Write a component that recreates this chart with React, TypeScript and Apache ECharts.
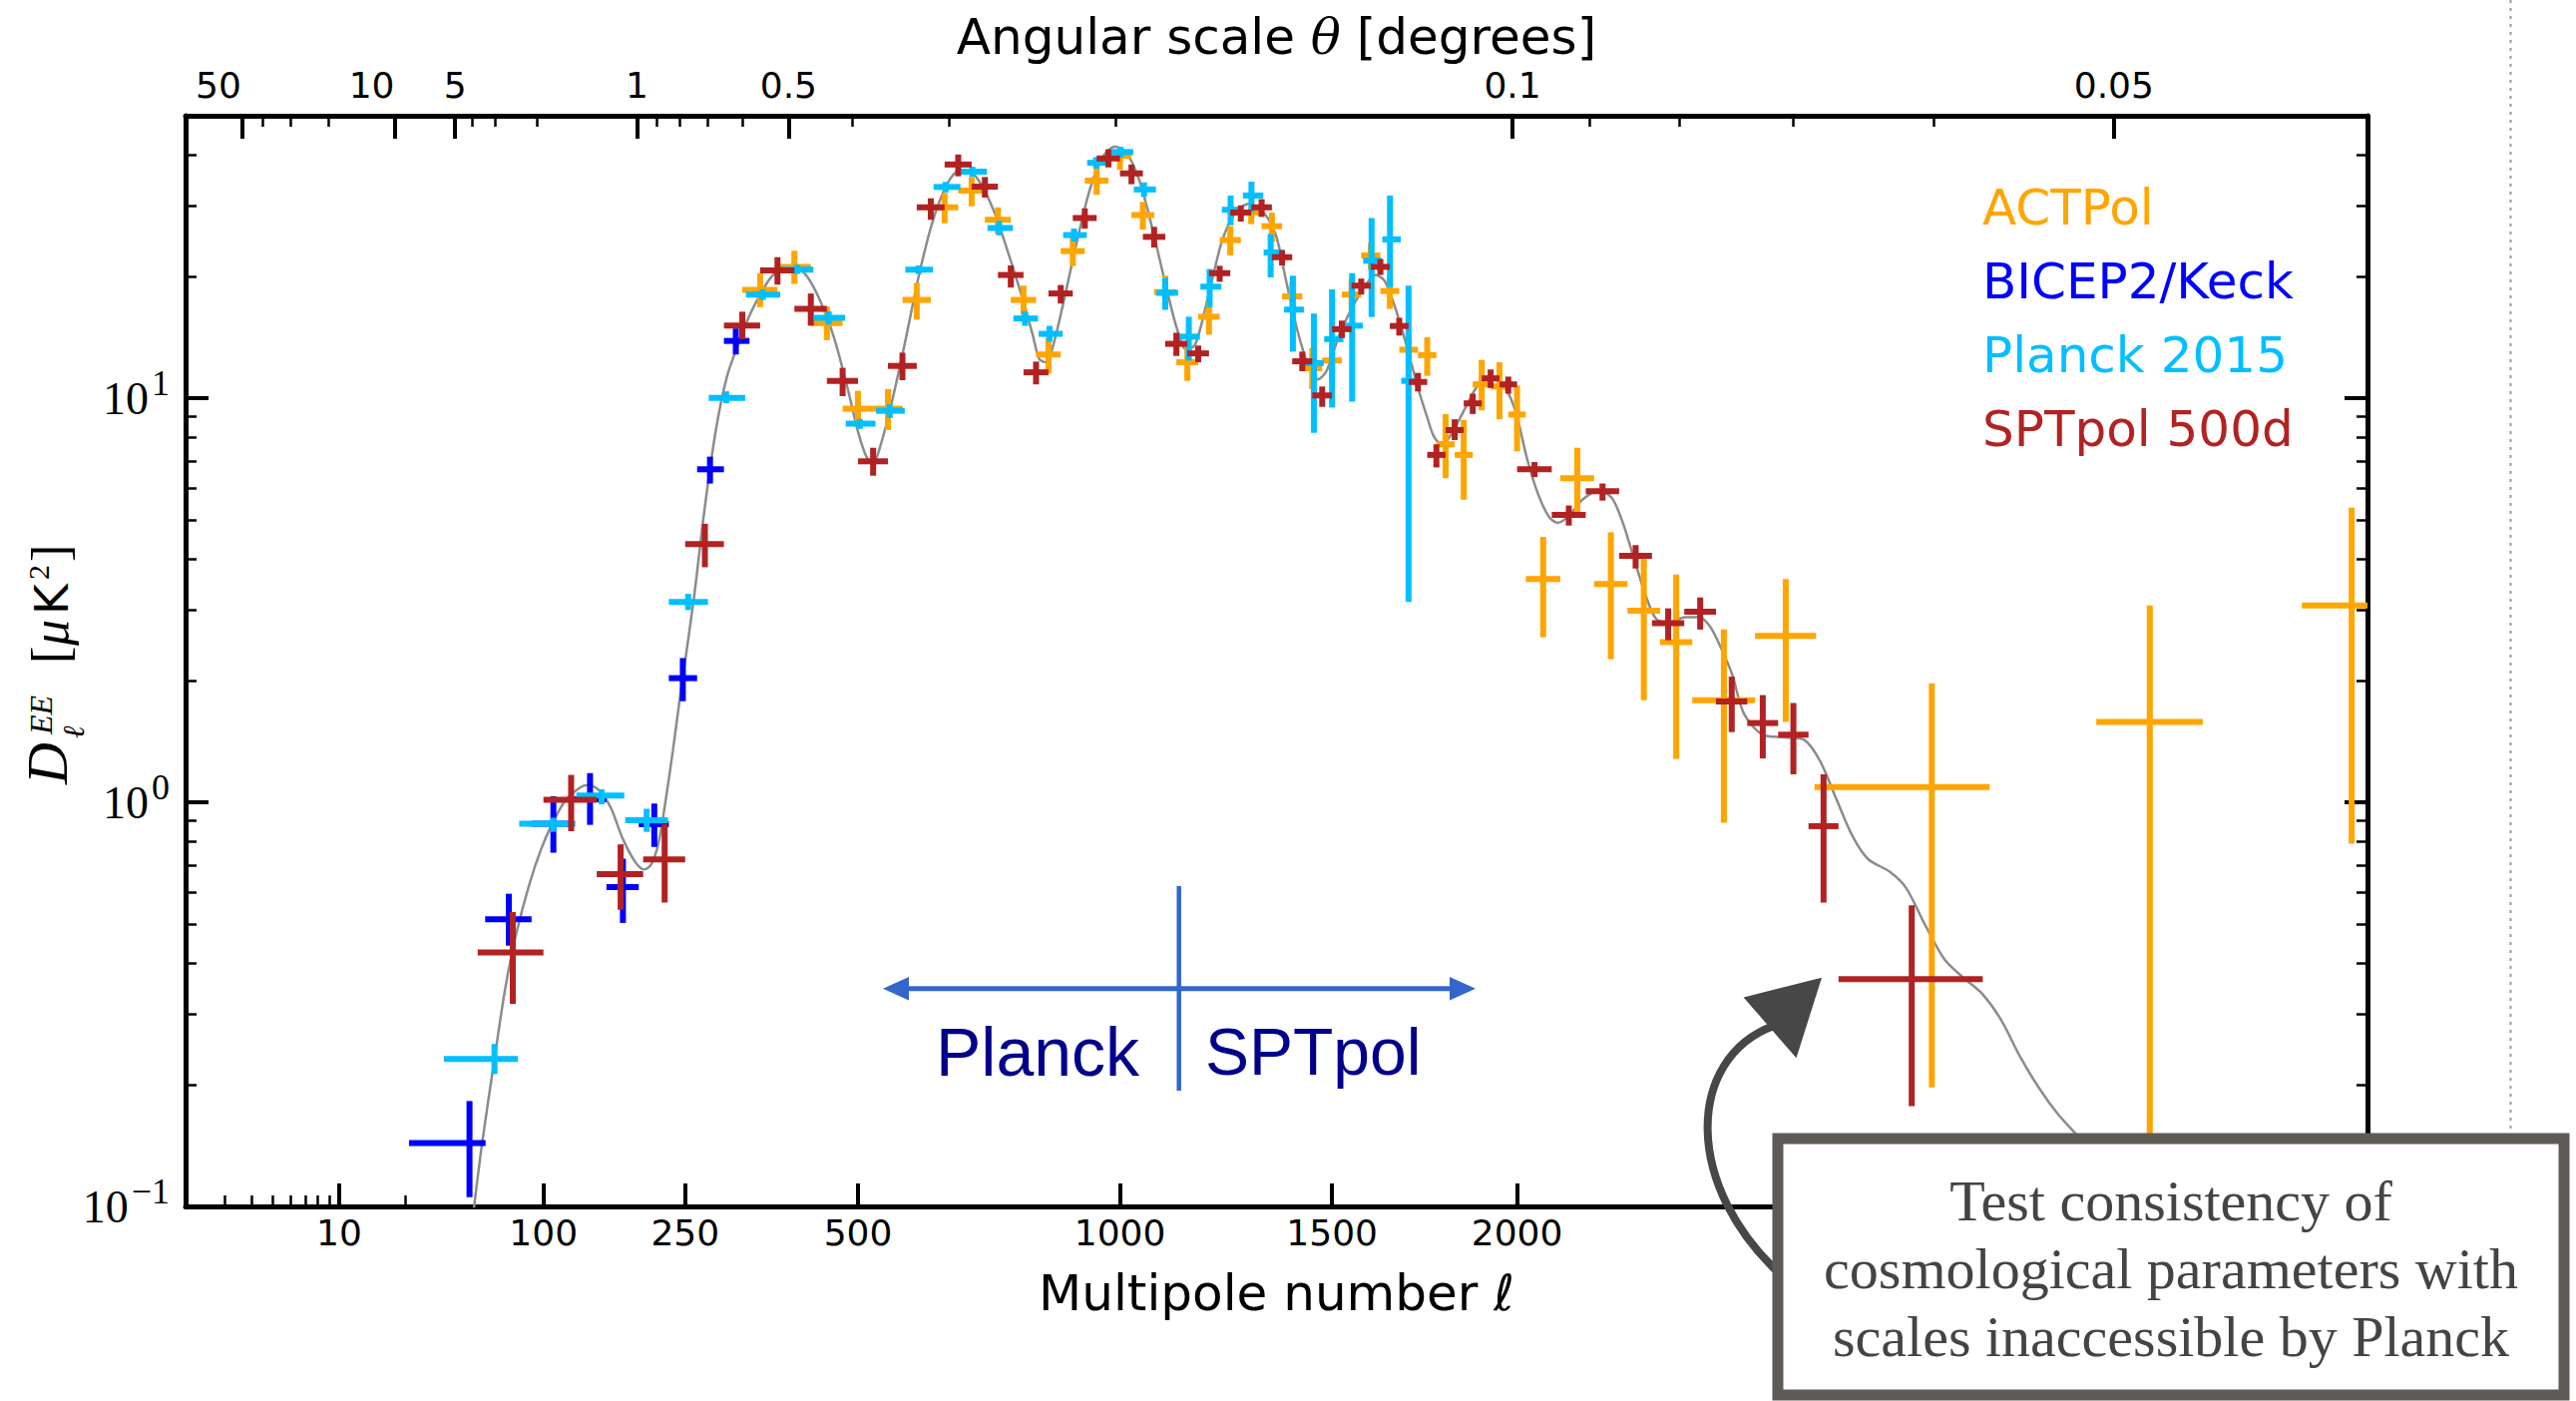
import React, { useEffect, useRef } from "react";
import * as echarts from "echarts";

const SERIES_NAMES = ["ACTPol", "BICEP2/Keck", "Planck 2015", "SPTpol 500d"];
const SERIES_COLORS = ["#FFA500", "#0000FF", "#00BFFF", "#B22222"];

// [ell, D_ell, ell_low, ell_high, D_low, D_high]
const actpolPoints = [
  [350, 18.53, 325, 375, 16.8, 20.39],
  [400, 21.14, 375, 425, 19.17, 23.17],
  [450, 15.34, 425, 475, 13.92, 16.87],
  [500, 9.42, 475, 525, 8.51, 10.43],
  [550, 9.42, 525, 575, 8.34, 10.54],
  [600, 17.51, 575, 625, 15.65, 19.29],
  [650, 29.67, 625, 675, 27.09, 32.2],
  [700, 32.65, 675, 725, 29.85, 35.27],
  [750, 27.64, 725, 775, 25.48, 29.67],
  [800, 17.51, 775, 825, 16.08, 18.99],
  [850, 12.83, 825, 875, 11.5, 14.09],
  [900, 23.12, 875, 925, 21.23, 24.98],
  [950, 34.55, 925, 975, 31.86, 37.48],
  [1000, 39.8, 975, 1025, 36.73, 41.63],
  [1050, 28.39, 1025, 1075, 26.11, 30.6],
  [1100, 18.3, 1075, 1125, 16.6, 20.1],
  [1150, 12.27, 1125, 1175, 11.04, 13.58],
  [1200, 15.91, 1175, 1225, 14.37, 17.51],
  [1250, 24.62, 1225, 1275, 22.56, 26.65],
  [1300, 28.8, 1275, 1325, 26.97, 29.67],
  [1350, 26.65, 1325, 1375, 24.37, 28.8],
  [1400, 17.86, 1375, 1425, 16.48, 19.39],
  [1450, 11.86, 1425, 1475, 10.54, 13.31],
  [1500, 12.4, 1475, 1525, 11.08, 13.86],
  [1550, 18.05, 1525, 1575, 16.48, 19.77],
  [1600, 22.56, 1575, 1625, 20.8, 24.23],
  [1650, 18.42, 1625, 1675, 16.63, 20.18],
  [1700, 13.18, 1675, 1725, 11.9, 14.43],
  [1750, 12.78, 1725, 1775, 11.36, 14.15],
  [1800, 7.69, 1775, 1825, 6.34, 9.14],
  [1850, 7.24, 1825, 1875, 5.61, 8.83],
  [1900, 10.82, 1875, 1925, 9.33, 12.44],
  [1950, 10.69, 1925, 1975, 8.87, 12.27],
  [2000, 9.11, 1975, 2025, 7.39, 10.75],
  [2075, 3.57, 2025, 2125, 2.56, 4.54],
  [2175, 6.34, 2125, 2225, 5.23, 7.54],
  [2275, 3.47, 2225, 2325, 2.26, 4.66],
  [2375, 2.98, 2325, 2425, 1.79, 4.09],
  [2475, 2.49, 2425, 2525, 1.28, 3.66],
  [2625, 1.79, 2525, 2725, 0.89, 2.68],
  [2825, 2.58, 2725, 2925, 1.58, 3.57],
  [3320, 1.09, 2920, 3525, 0.197, 1.97],
  [4117, 1.58, 3915, 4321, 0.05, 3.07],
  [4915, 3.07, 4713, 5000, 0.79, 5.36],
];

const bicepPoints = [
  [44.8, 0.1435, 20.8, 55.3, 0.1054, 0.1823],
  [72, 0.5135, 55, 90, 0.4419, 0.5939],
  [108.7, 0.885, 90, 125, 0.7503, 1.035],
  [143.3, 1.018, 125, 160, 0.8794, 1.181],
  [177.5, 0.6165, 160, 195, 0.503, 0.7252],
  [212.8, 0.883, 195, 230, 0.7755, 0.993],
  [247.1, 2.029, 230, 265, 1.779, 2.275],
  [281.6, 6.67, 265, 300, 6.15, 7.167],
  [316.1, 13.86, 300, 335, 12.83, 14.88],
];

const planckPoints = [
  [61.5, 0.2317, 30, 79, 0.2125, 0.2523],
  [108.7, 0.885, 80, 129, 0.845, 0.916],
  [155, 1.039, 130, 179, 0.989, 1.077],
  [204, 0.903, 180, 229, 0.845, 0.964],
  [253.7, 3.134, 230, 279, 2.99, 3.28],
  [303, 10.02, 280, 329, 9.72, 10.4],
  [353.6, 18.05, 330, 379, 17.5, 18.6],
  [404, 20.8, 380, 429, 20.3, 21.4],
  [452.8, 15.81, 430, 479, 15.2, 16.4],
  [503, 8.65, 480, 529, 8.4, 8.88],
  [553, 9.31, 530, 579, 8.93, 9.67],
  [603.3, 20.8, 580, 629, 20.3, 21.3],
  [651.6, 33.32, 630, 679, 32.3, 34.3],
  [701.3, 36.36, 680, 729, 35.3, 37.4],
  [752.3, 26.38, 730, 779, 25.3, 27.5],
  [802.9, 15.75, 780, 829, 15.1, 16.4],
  [852.1, 14.43, 830, 879, 13.8, 15.1],
  [902.5, 25.33, 880, 929, 24.4, 26.3],
  [949, 38.25, 930, 979, 37.0, 39.5],
  [1001, 40.66, 980, 1029, 39.4, 41.9],
  [1052.6, 32.85, 1030, 1079, 31.5, 34.2],
  [1099.6, 18.23, 1080, 1129, 16.54, 19.85],
  [1153.4, 14.2, 1130, 1179, 12.4, 15.91],
  [1201.5, 18.88, 1180, 1229, 16.8, 20.88],
  [1250.8, 29.26, 1230, 1279, 26.81, 31.74],
  [1300.5, 31.74, 1280, 1329, 28.8, 34.34],
  [1347, 22.94, 1330, 1379, 19.9, 25.48],
  [1401.7, 16.57, 1380, 1429, 13.04, 20.1],
  [1454, 12.22, 1430, 1479, 8.21, 16.2],
  [1500, 14.0, 1480, 1529, 9.48, 18.6],
  [1551.5, 15.12, 1530, 1579, 9.81, 20.39],
  [1602, 21.89, 1580, 1629, 15.88, 27.92],
  [1650.4, 24.72, 1630, 1679, 18.8, 31.74],
  [1699.8, 11.04, 1680, 1729, 3.13, 18.99],
];

const sptpolPoints = [
  [75, 0.425, 50, 100, 0.317, 0.535],
  [125, 1.014, 100, 150, 0.848, 1.169],
  [175, 0.6645, 150, 200, 0.542, 0.787],
  [225, 0.7225, 200, 250, 0.565, 0.884],
  [275, 4.355, 250, 300, 3.817, 4.891],
  [325, 15.12, 300, 350, 14.0, 16.37],
  [375, 20.72, 350, 400, 19.1, 22.34],
  [425, 16.63, 400, 450, 15.12, 18.16],
  [475, 11.04, 450, 500, 10.12, 11.89],
  [525, 6.98, 500, 550, 6.43, 7.54],
  [575, 12.02, 550, 600, 11.08, 12.96],
  [625, 29.67, 600, 650, 27.64, 31.24],
  [675, 37.87, 650, 700, 35.41, 40.09],
  [725, 33.38, 700, 750, 31.36, 35.27],
  [775, 20.18, 750, 800, 18.79, 21.31],
  [825, 11.59, 800, 850, 10.82, 12.32],
  [875, 18.16, 850, 900, 17.15, 19.06],
  [925, 27.92, 900, 950, 26.28, 29.5],
  [975, 39.2, 950, 1000, 37.25, 41.3],
  [1025, 36.0, 1000, 1050, 33.85, 37.87],
  [1075, 25.08, 1050, 1100, 23.6, 26.55],
  [1125, 13.63, 1100, 1150, 12.72, 14.52],
  [1175, 12.91, 1150, 1200, 12.27, 13.5],
  [1225, 20.39, 1200, 1250, 19.41, 21.26],
  [1275, 28.8, 1250, 1300, 27.35, 30.0],
  [1325, 29.67, 1300, 1350, 28.09, 31.09],
  [1375, 22.33, 1350, 1400, 21.31, 23.25],
  [1425, 12.34, 1400, 1450, 11.66, 13.04],
  [1475, 10.16, 1450, 1500, 9.52, 10.69],
  [1525, 14.82, 1500, 1550, 14.09, 15.56],
  [1575, 18.99, 1550, 1600, 18.05, 19.77],
  [1625, 21.14, 1600, 1650, 20.18, 22.1],
  [1675, 15.09, 1650, 1700, 14.29, 15.81],
  [1725, 10.97, 1700, 1750, 10.39, 11.55],
  [1775, 7.24, 1750, 1800, 6.74, 7.69],
  [1825, 8.34, 1800, 1850, 7.88, 8.87],
  [1875, 9.71, 1850, 1900, 9.14, 10.26],
  [1925, 11.2, 1900, 1950, 10.6, 11.78],
  [1975, 10.82, 1950, 2000, 10.26, 11.31],
  [2050, 6.67, 2000, 2100, 6.38, 6.95],
  [2150, 5.145, 2100, 2200, 4.84, 5.425],
  [2250, 5.884, 2200, 2300, 5.58, 6.15],
  [2350, 4.073, 2300, 2400, 3.79, 4.33],
  [2450, 2.775, 2400, 2500, 2.518, 3.02],
  [2550, 2.962, 2500, 2600, 2.676, 3.213],
  [2650, 1.776, 2600, 2700, 1.492, 2.046],
  [2750, 1.571, 2700, 2800, 1.284, 1.842],
  [2850, 1.47, 2800, 2900, 1.173, 1.761],
  [2950, 0.873, 2900, 3000, 0.565, 1.173],
  [3250, 0.365, 3000, 3500, 0.177, 0.556],
];

// theory (LCDM) EE spectrum
const theoryEll = [
  47.55, 52.9, 61.5, 69.25, 77.4, 88.8, 97.8, 107.2, 120, 133.5, 140.5, 151.3, 164.2, 177.5,
  191.3, 201.2, 209.5, 217.8, 226.3, 235, 243.7, 260.5, 274.7, 289.3, 304.1, 319.2, 334.7,
  350.2, 366.3, 386, 402.6, 419.5, 440.1, 461.2, 482.6, 500.9, 515.6, 526.8, 538, 556.9, 580,
  603.3, 627.3, 651.4, 672, 692.6, 717.7, 743.4, 769.3, 795.6, 817.8, 831.2, 844.8, 858.2,
  881, 908.7, 936.7, 965, 989.2, 1013.2, 1042.5, 1072, 1102.2, 1127.4, 1147.8, 1168.2,
  1199.2, 1230.5, 1262.2, 1294.2, 1326.5, 1359, 1385.5, 1412.7, 1440.5, 1463, 1485.7,
  1519.6, 1559.6, 1588.5, 1611.9, 1635.3, 1658.8, 1682.7, 1706.4, 1730.3, 1748.6, 1766.7,
  1784.8, 1803.3, 1827.5, 1858.6, 1889.5, 1926.8, 1964.6, 1996.3, 2028.5, 2060.4, 2093,
  2118.7, 2151.3, 2191, 2237.3, 2277.4, 2311.1, 2344.8, 2379, 2412.8, 2454.2, 2502.5,
  2544.6, 2579.7, 2615, 2652, 2689, 2750.4, 2822.9, 2886.3, 2938.7, 2991.5, 3045.5, 3099.3,
  3176, 3230.5, 3296.8, 3364, 3431, 3498, 3566, 3635, 3705, 3775, 3846, 3948, 4060,
];
const theoryDee = [
  0.0986, 0.1428, 0.2317, 0.3456, 0.4688, 0.6357, 0.763, 0.8795, 1.014, 1.088, 1.104, 1.077,
  0.9737, 0.811, 0.7106, 0.6823, 0.7032, 0.7943, 1.014, 1.347, 1.827, 3.148, 5.336, 8.34,
  11.31, 13.58, 15.97, 18.05, 19.98, 21.01, 21.01, 19.98, 17.33, 14.15, 10.65, 8.17, 7.09,
  7.02, 7.69, 9.81, 13.86, 19.98, 27.09, 33.19, 36.36, 36.72, 33.85, 28.8, 23.03, 18.05,
  14.43, 12.52, 12.27, 13.31, 17.33, 24.47, 33.19, 39.83, 41.9, 40.66, 34.55, 26.0, 18.8,
  14.73, 13.18, 13.58, 18.05, 24.47, 28.8, 30.28, 29.09, 25.48, 19.39, 14.73, 12.02, 11.13,
  11.66, 14.43, 17.33, 19.17, 20.18, 19.57, 17.33, 14.73, 12.27, 10.22, 9.05, 8.09, 7.77,
  7.85, 8.51, 9.62, 10.75, 11.2, 10.65, 9.24, 7.09, 5.79, 5.07, 4.92, 5.125, 5.615, 5.906,
  5.672, 4.92, 4.015, 3.279, 2.843, 2.787, 2.872, 2.872, 2.731, 2.418, 2.066, 1.658, 1.47,
  1.448, 1.426, 1.264, 1.024, 0.8295, 0.7244, 0.672, 0.614, 0.497, 0.409, 0.368, 0.336,
  0.2893, 0.2344, 0.1956, 0.1684, 0.1492, 0.12, 0.0986,
];

// axis ticks
const bottomTickEll = [10, 100, 250, 500, 1000, 1500, 2000];
const bottomMinorEll = [3, 4, 5, 6, 7, 8, 9, 20];
const topTickLabels = ["50", "10", "5", "1", "0.5", "0.1", "0.05"];
const topTickEll = [3.612, 17.99, 36.2, 193.0, 391.3, 1987, 3981];
const topMinorEll = [4.481, 6.014, 8.95, 46.33, 62.0, 94.9, 216.0, 242.7, 278.2, 325.3, 490.1, 657.6, 990.9, 2211.5, 2486, 2849, 3328];
const yTickVals = [0.1, 1, 10];
const yTickExp = ["\u22121", "0", "1"];
const yMinorVals = [0.2, 0.3, 0.4, 0.5, 0.6, 0.7, 0.8, 0.9, 2, 3, 4, 5, 6, 7, 8, 9, 20, 30, 40];

const ELL_MIN = 2;
const ELL_MAX = 4980;
const DEE_MIN = 0.1;
const DEE_MAX = 50;

// hybrid multipole scale: logarithmic below ell=30, ell^0.6 above
const SPLIT = 30;
const POW = 0.6;
const KPOW = 12.22 / 220;
const ux = (l: number) =>
  l <= SPLIT ? Math.log10(l) : Math.log10(SPLIT) + KPOW * (Math.pow(l, POW) - Math.pow(SPLIT, POW));
const uy = (d: number) => Math.log10(d);

const nearest = (arr: number[], v: number) => {
  let bi = 0;
  let bd = Infinity;
  arr.forEach((a, i) => {
    const d = Math.abs(a - v);
    if (d < bd) {
      bd = d;
      bi = i;
    }
  });
  return bi;
};

const SANS = "'DejaVu Sans', sans-serif";
const SERIF = "'Liberation Serif', serif";

function errRender(color: string, lw: number) {
  return (params: any, api: any) => {
    const x = api.value(0);
    const y = api.value(1);
    const c = api.coord([x, y]);
    const pl = api.coord([api.value(2), y]);
    const ph = api.coord([api.value(3), y]);
    const yl = api.coord([x, api.value(4)]);
    const yh = api.coord([x, api.value(5)]);
    return {
      type: "group",
      children: [
        { type: "line", shape: { x1: pl[0], y1: c[1], x2: ph[0], y2: c[1] }, style: { stroke: color, lineWidth: lw } },
        { type: "line", shape: { x1: c[0], y1: yh[1], x2: c[0], y2: yl[1] }, style: { stroke: color, lineWidth: lw } },
      ],
    };
  };
}

const toXY = (p: number[]) => [ux(p[0]), uy(p[1]), ux(p[2]), ux(p[3]), uy(p[4]), uy(p[5])];

export default function App() {
  const ref = useRef<HTMLDivElement>(null);
  useEffect(() => {
    if (!ref.current) return;
    const chart = echarts.init(ref.current, null, { renderer: "svg" });
    const xMin = ux(ELL_MIN);
    const xMax = ux(ELL_MAX);
    const yMin = uy(DEE_MIN);
    const yMax = uy(DEE_MAX);
    const bottomU = bottomTickEll.map(ux);
    const topU = topTickEll.map(ux);
    const yU = yTickVals.map(uy);

    const hiddenX = {
      type: "value",
      min: xMin,
      max: xMax,
      splitLine: { show: false },
      axisLine: { show: false, onZero: false },
      axisLabel: { show: false },
    };
    const hiddenY = {
      type: "value",
      min: yMin,
      max: yMax,
      splitLine: { show: false },
      axisLine: { show: false, onZero: false },
      axisLabel: { show: false },
    };
    const axLine = { show: true, onZero: false, lineStyle: { color: "#000", width: 5 } };

    const pointSets = [actpolPoints, bicepPoints, planckPoints, sptpolPoints];

    const option: any = {
      animation: false,
      grid: { left: 186, top: 116, width: 2187, height: 1093 },
      legend: {
        orient: "vertical",
        left: 1977,
        top: 178,
        itemGap: 24,
        itemWidth: 0,
        itemHeight: 0,
        icon: "none",
        selectedMode: false,
        textStyle: { fontSize: 50, fontFamily: SANS, lineHeight: 50 },
        data: SERIES_NAMES.map((n, i) => ({ name: n, textStyle: { color: SERIES_COLORS[i] } })),
      },
      xAxis: [
        {
          ...hiddenX,
          position: "bottom",
          axisLine: axLine,
          axisTick: { show: true, inside: true, length: 23, lineStyle: { width: 4, color: "#000" }, customValues: bottomU },
          axisLabel: {
            show: true,
            customValues: bottomU,
            formatter: (v: number) => String(bottomTickEll[nearest(bottomU, v)]),
            fontSize: 36,
            fontFamily: SANS,
            color: "#000",
            margin: 8,
          },
          name: "Multipole number {it|\u2113}",
          nameLocation: "middle",
          nameGap: 62,
          nameTextStyle: {
            fontSize: 50,
            fontFamily: SANS,
            color: "#000",
            rich: { it: { fontSize: 50, fontFamily: SANS, fontStyle: "italic", color: "#000" } },
          },
        },
        {
          ...hiddenX,
          position: "bottom",
          axisTick: { show: true, inside: true, length: 11, lineStyle: { width: 2.5, color: "#000" }, customValues: bottomMinorEll.map(ux) },
        },
        {
          ...hiddenX,
          position: "top",
          axisLine: axLine,
          axisTick: { show: true, inside: true, length: 23, lineStyle: { width: 4, color: "#000" }, customValues: topU },
          axisLabel: {
            show: true,
            customValues: topU,
            formatter: (v: number) => {
              const i = nearest(topU, v);
              const t = topTickLabels[i];
              return i < 2 ? `{s|${t}}` : t;
            },
            fontSize: 36,
            fontFamily: SANS,
            color: "#000",
            margin: 13,
            rich: { s: { fontSize: 36, fontFamily: SANS, color: "#000", padding: [0, 47, 0, 0] } },
          },
          name: "Angular scale {it|\u03b8} [degrees]",
          nameLocation: "middle",
          nameGap: 51,
          nameTextStyle: {
            fontSize: 50,
            fontFamily: SANS,
            color: "#000",
            rich: { it: { fontSize: 50, fontFamily: "'DejaVu Serif', serif", fontStyle: "italic", color: "#000" } },
          },
        },
        {
          ...hiddenX,
          position: "top",
          axisTick: { show: true, inside: true, length: 11, lineStyle: { width: 2.5, color: "#000" }, customValues: topMinorEll.map(ux) },
        },
      ],
      yAxis: [
        {
          ...hiddenY,
          position: "left",
          axisLine: axLine,
          axisTick: { show: true, inside: true, length: 23, lineStyle: { width: 4, color: "#000" }, customValues: yU },
          axisLabel: {
            show: true,
            customValues: yU,
            margin: 16,
            fontSize: 46,
            fontFamily: SERIF,
            color: "#000",
            formatter: (v: number) => `{b|10}{s|${yTickExp[nearest(yU, v)]}}`,
            rich: {
              b: { fontSize: 46, fontFamily: SERIF, color: "#000" },
              s: { fontSize: 36, fontFamily: SERIF, color: "#000", padding: [0, 0, 30, 3] },
            },
          },
        },
        {
          ...hiddenY,
          position: "left",
          axisTick: { show: true, inside: true, length: 11, lineStyle: { width: 2.5, color: "#000" }, customValues: yMinorVals.map(uy) },
        },
        {
          ...hiddenY,
          position: "right",
          axisLine: axLine,
          axisTick: { show: true, inside: true, length: 23, lineStyle: { width: 4, color: "#000" }, customValues: yU },
        },
        {
          ...hiddenY,
          position: "right",
          axisTick: { show: true, inside: true, length: 11, lineStyle: { width: 2.5, color: "#000" }, customValues: yMinorVals.map(uy) },
        },
      ],
      series: [
        {
          type: "line",
          name: "theory",
          xAxisIndex: 0,
          yAxisIndex: 0,
          data: theoryEll.map((l, i) => [ux(l), uy(theoryDee[i])]),
          showSymbol: false,
          symbol: "none",
          smooth: 0.3,
          lineStyle: { color: "#8c8c8c", width: 2.5 },
          silent: true,
          z: 1,
        },
        ...pointSets.map((pts, k) => ({
          type: "custom",
          name: SERIES_NAMES[k],
          xAxisIndex: 0,
          yAxisIndex: 0,
          clip: true,
          silent: true,
          itemStyle: { color: SERIES_COLORS[k] },
          dimensions: ["x", "y", "xl", "xh", "yl", "yh"],
          encode: { x: 0, y: 1 },
          renderItem: errRender(SERIES_COLORS[k], 6),
          data: pts.map(toXY),
          z: 2 + k,
        })),
      ],
      graphic: {
        elements: [
          // Planck | SPTpol divider
          { type: "line", silent: true, shape: { x1: 905, y1: 990.7, x2: 1459, y2: 990.7 }, style: { stroke: "#3366CC", lineWidth: 5 } },
          { type: "polygon", silent: true, shape: { points: [[885, 990.7], [911, 979], [911, 1002.5]] }, style: { fill: "#3366CC" } },
          { type: "polygon", silent: true, shape: { points: [[1479, 990.7], [1453, 979], [1453, 1002.5]] }, style: { fill: "#3366CC" } },
          { type: "line", silent: true, shape: { x1: 1181.7, y1: 888, x2: 1181.7, y2: 1093 }, style: { stroke: "#3366CC", lineWidth: 4.5 } },
          {
            type: "text",
            silent: true,
            x: 938,
            y: 1054,
            style: { text: "Planck", fill: "#00008B", fontSize: 68, fontFamily: "'Liberation Sans', sans-serif", textAlign: "left", textVerticalAlign: "middle" },
          },
          {
            type: "text",
            silent: true,
            x: 1208,
            y: 1054,
            style: { text: "SPTpol", fill: "#00008B", fontSize: 66, fontFamily: "'Liberation Sans', sans-serif", textAlign: "left", textVerticalAlign: "middle" },
          },
          // dotted guide line at the right
          { type: "line", silent: true, shape: { x1: 2516.5, y1: 0, x2: 2516.5, y2: 1138 }, style: { stroke: "#9a9a9a", lineWidth: 2, lineDash: [3, 5] } },
          // curved arrow
          {
            type: "bezierCurve",
            silent: true,
            z: 99,
            shape: { x1: 1790, y1: 1282, cpx1: 1685, cpy1: 1190, cpx2: 1690, cpy2: 1060, x2: 1778, y2: 1028 },
            style: { stroke: "#474747", lineWidth: 8, fill: "none" },
          },
          { type: "polygon", silent: true, z: 99, shape: { points: [[1747.6, 999.4], [1826, 979.8], [1800.5, 1060.3]] }, style: { fill: "#474747" } },
          // annotation box
          {
            type: "rect",
            silent: true,
            z: 100,
            shape: { x: 1782, y: 1141, width: 788, height: 257 },
            style: { fill: "#ffffff", stroke: "#5E5B57", lineWidth: 11 },
          },
          {
            type: "text",
            silent: true,
            z: 101,
            x: 2176,
            y: 1271,
            style: {
              text: "Test consistency of\ncosmological parameters with\nscales inaccessible by Planck",
              fill: "#444444",
              fontSize: 58,
              lineHeight: 68,
              fontFamily: SERIF,
              textAlign: "center",
              textVerticalAlign: "middle",
            },
          },
          // y-axis title D_ell^EE [muK^2]
          {
            type: "group",
            silent: true,
            x: 66,
            y: 786,
            rotation: Math.PI / 2,
            children: [
              { type: "text", x: 0, y: -19, style: { text: "D", fontSize: 58, fontFamily: SERIF, fontStyle: "italic", fill: "#000", textAlign: "left", textVerticalAlign: "middle" } },
              { type: "text", x: 50, y: -25, style: { text: "EE", fontSize: 32, fontFamily: SERIF, fontStyle: "italic", fill: "#000", textAlign: "left", textVerticalAlign: "middle" } },
              { type: "text", x: 46, y: 7, style: { text: "\u2113", fontSize: 30, fontFamily: SERIF, fontStyle: "italic", fill: "#000", textAlign: "left", textVerticalAlign: "middle" } },
              { type: "text", x: 121, y: -16, style: { text: "[", fontSize: 52, fontFamily: SERIF, fill: "#000", textAlign: "left", textVerticalAlign: "middle" } },
              { type: "text", x: 139, y: -16, style: { text: "\u03bc", fontSize: 52, fontFamily: SERIF, fontStyle: "italic", fill: "#000", textAlign: "left", textVerticalAlign: "middle" } },
              { type: "text", x: 170, y: -15, style: { text: "K", fontSize: 47, fontFamily: SANS, fill: "#000", textAlign: "left", textVerticalAlign: "middle" } },
              { type: "text", x: 205, y: -28, style: { text: "2", fontSize: 30, fontFamily: SERIF, fill: "#000", textAlign: "left", textVerticalAlign: "middle" } },
              { type: "text", x: 223, y: -16, style: { text: "]", fontSize: 52, fontFamily: SERIF, fill: "#000", textAlign: "left", textVerticalAlign: "middle" } },
            ],
          },
        ],
      },
    };
    chart.setOption(option);
    return () => chart.dispose();
  }, []);
  return <div ref={ref} style={{ position: "absolute", left: 0, top: 0, width: 2582, height: 1404, background: "#fff" }} />;
}
